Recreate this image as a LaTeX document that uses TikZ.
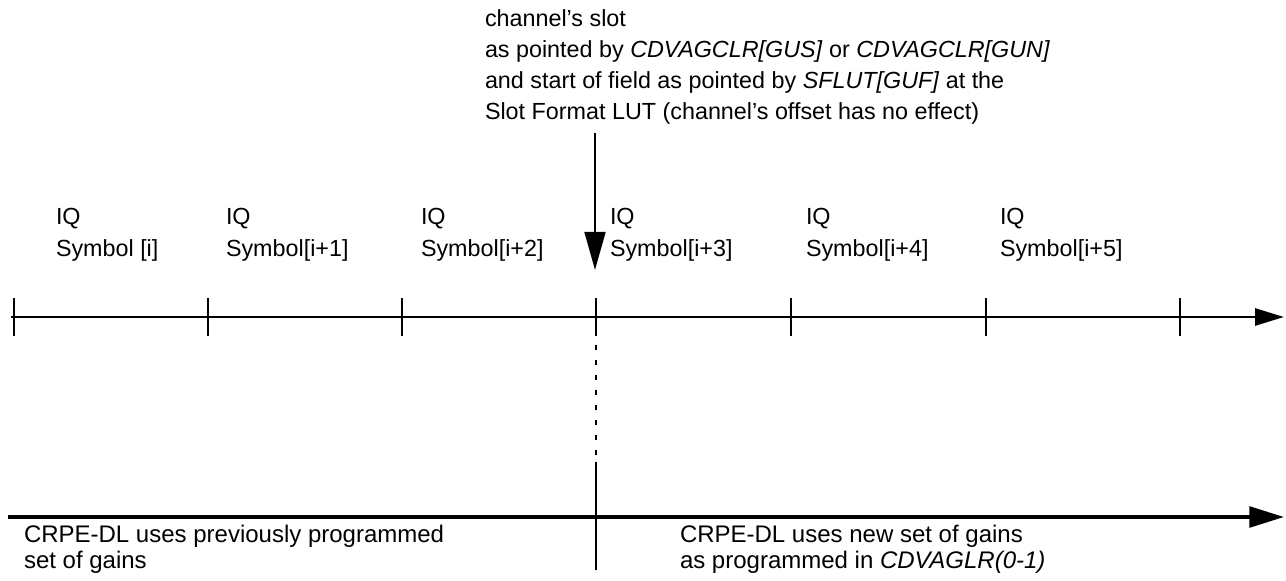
\documentclass[tikz,border=0pt]{standalone}
\usepackage{fontspec}
\setmainfont{Liberation Sans}
\usetikzlibrary{arrows.meta}
\begin{document}
\begin{tikzpicture}[x=0.75pt,y=-0.75pt,
  txt/.style={inner sep=0pt, outer sep=0pt, anchor=north west, align=left},
  toptxt/.style={txt, font=\fontsize{17.5}{23.25}\selectfont},
  iqtxt/.style={txt, font=\fontsize{17.5}{24.5}\selectfont},
  bottxt/.style={txt, font=\fontsize{18}{19.5}\selectfont},
  timeline/.style={line width=2.1pt, -{Triangle[length=21.75pt,width=12.75pt]}},
  gainline/.style={line width=2.8pt, -{Triangle[length=26pt,width=15.5pt]}},
  tick/.style={line width=1.6pt},
  pointer/.style={line width=2.1pt, -{Triangle[length=28.5pt,width=15.5pt]}},
  boundary/.style={line width=1.5pt}
]
\useasboundingbox (0,0) rectangle (1286,581);

% top note
\node[toptxt] (note) at (485,10) {channel’s slot\\
as pointed by \textit{CDVAGCLR[GUS]} or \textit{CDVAGCLR[GUN]}\\
and start of field as pointed by \textit{SFLUT[GUF]} at the\\
Slot Format LUT (channel’s offset has no effect)};

% pointer arrow
\coordinate (ptop) at (595,133);
\coordinate (ptip) at (595,270);
\draw[pointer] (ptop) -- (ptip);

% IQ symbol labels
\node[iqtxt] (s0) at (56,208) {IQ\\Symbol [i]};
\node[iqtxt] (s1) at (226,208) {IQ\\Symbol[i+1]};
\node[iqtxt] (s2) at (421,208) {IQ\\Symbol[i+2]};
\node[iqtxt] (s3) at (610,208) {IQ\\Symbol[i+3]};
\node[iqtxt] (s4) at (806,208) {IQ\\Symbol[i+4]};
\node[iqtxt] (s5) at (1000,208) {IQ\\Symbol[i+5]};

% symbol time line
\coordinate (l1start) at (11,317);
\coordinate (l1end) at (1284,317);
\draw[timeline] (l1start) -- (l1end);
\foreach \x/\n in {14/t0,208/t1,402/t2,596/t3,791/t4,986/t5,1180/t6}{
  \coordinate (\n) at (\x,317);
  \draw[tick] ([yshift=-19*0.75pt]\n) -- ([yshift=19*0.75pt]\n);
}

% boundary marker
\coordinate (b0) at (596,345);
\coordinate (b1) at (596,457);
\coordinate (b2) at (596,462);
\coordinate (b3) at (596,570);
\draw[boundary, dash pattern=on 4pt off 7.25pt] (b0) -- (b1);
\draw[boundary] (b2) -- (b3);

% gain time line
\coordinate (l2start) at (8,517);
\coordinate (l2end) at (1284,517);
\draw[gainline] (l2start) -- (l2end);

% bottom texts
\node[bottxt] (oldg) at (24,525) {CRPE-DL uses previously programmed\\set of gains};
\node[bottxt] (newg) at (680,525) {CRPE-DL uses new set of gains\\as programmed in \textit{CDVAGLR(0-1)}};
\end{tikzpicture}
\end{document}
